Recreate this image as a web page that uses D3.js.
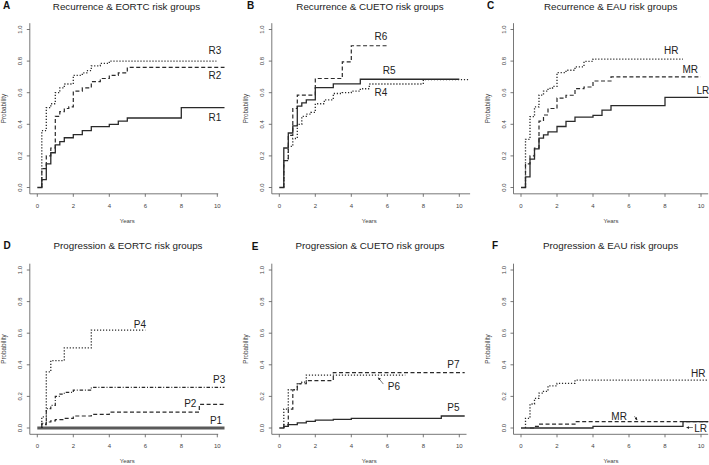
<!DOCTYPE html>
<html><head><meta charset="utf-8">
<script src="https://cdn.jsdelivr.net/npm/d3@7"></script>
<style>body{margin:0;background:#fff}svg{display:block;font-family:"Liberation Sans",Arial,sans-serif}</style>
</head><body><svg id="c" width="709" height="465"></svg>
<script>
// ---- data: step points [years, probability]; last point = end of curve ----
const recEortcR1 = [[0,0],[0.25,0.05],[0.5,0.15],[0.75,0.22],[1,0.27],[1.25,0.29],[1.5,0.315],[2,0.335],[2.5,0.36],[3,0.385],[4,0.40],[4.5,0.42],[5,0.44],[8,0.505],[10.4,0.505]];
const recEortcR2 = [[0.25,0],[0.25,0.12],[0.5,0.2],[0.75,0.25],[1,0.45],[1.25,0.48],[1.5,0.50],[1.75,0.51],[2,0.61],[2.5,0.63],[3,0.67],[3.5,0.69],[4,0.71],[4.5,0.725],[5,0.76],[10.4,0.76]];
const recEortcR3 = [[0.25,0],[0.25,0.36],[0.5,0.505],[0.75,0.53],[1,0.60],[1.25,0.63],[1.5,0.655],[2,0.71],[2.5,0.725],[2.75,0.74],[3,0.77],[3.5,0.785],[4,0.80],[9.95,0.80]];
const recCuetoR4 = [[0.25,0],[0.25,0.17],[0.5,0.26],[0.75,0.31],[1,0.40],[1.25,0.45],[1.5,0.465],[1.75,0.475],[2,0.53],[2.5,0.555],[3,0.595],[3.5,0.60],[4,0.61],[4.5,0.625],[5,0.655],[8,0.683],[10.5,0.683]];
const recCuetoR5 = [[0,0],[0.25,0.25],[0.5,0.345],[0.75,0.39],[1,0.515],[1.25,0.535],[1.5,0.555],[2,0.632],[3,0.656],[4.5,0.685],[10,0.685]];
const recCuetoR6 = [[0.25,0],[0.25,0.17],[0.5,0.33],[0.75,0.50],[1,0.585],[2,0.69],[3.5,0.795],[4,0.897],[6,0.897]];
const recEauLR = [[0,0],[0.25,0.067],[0.5,0.18],[0.75,0.245],[1,0.312],[1.25,0.333],[1.5,0.352],[2,0.386],[2.5,0.418],[3,0.446],[4,0.457],[4.5,0.49],[5,0.518],[8,0.57],[10.4,0.57]];
const recEauMR = [[0.25,0],[0.25,0.15],[0.5,0.2],[0.75,0.25],[1,0.42],[1.25,0.459],[1.5,0.50],[2,0.566],[2.5,0.584],[3,0.626],[3.5,0.636],[4,0.674],[5,0.70],[10,0.70]];
const recEauHR = [[0.25,0],[0.25,0.305],[0.5,0.448],[0.75,0.51],[1,0.585],[1.25,0.61],[1.5,0.627],[1.75,0.64],[2,0.727],[2.5,0.742],[3,0.764],[3.5,0.798],[4,0.812],[9,0.812]];
const proEortcP1 = [[0,0],[10.4,0]];
const proEortcP2 = [[0.25,0],[0.25,0.021],[0.5,0.038],[0.75,0.045],[1,0.053],[1.5,0.061],[2,0.076],[3,0.086],[4,0.10],[9,0.15],[10.4,0.15]];
const proEortcP3 = [[0.25,0],[0.25,0.03],[0.5,0.122],[0.75,0.143],[1,0.20],[1.25,0.215],[1.5,0.225],[2,0.24],[3,0.257],[10.4,0.257]];
const proEortcP4 = [[0.25,0],[0.25,0.07],[0.5,0.355],[0.75,0.427],[1.5,0.507],[3,0.619],[6,0.619]];
const proCuetoP5 = [[0,0],[0.25,0.01],[0.5,0.021],[1,0.032],[1.5,0.042],[2,0.05],[3,0.055],[4,0.061],[9,0.076],[10.3,0.076]];
const proCuetoP6 = [[0.25,0],[0.25,0.12],[0.5,0.242],[1,0.28],[1.25,0.29],[1.5,0.335],[7,0.335]];
const proCuetoP7 = [[0.25,0],[0.25,0.02],[0.5,0.12],[0.75,0.242],[1,0.28],[1.5,0.30],[3,0.35],[10.3,0.35]];
const proEauLR = [[0,0],[4,0.01],[9,0.04],[10.4,0.04]];
const proEauMR = [[0.5,0],[0.75,0.01],[1,0.025],[3,0.04],[10.4,0.04]];
const proEauHR = [[0.25,0],[0.25,0.061],[0.5,0.152],[0.75,0.187],[1,0.221],[1.25,0.232],[1.5,0.267],[2,0.282],[3,0.303],[10.4,0.303]];

const panelLetters = ["A","B","C","D","E","F"];
const panelTitles = ["Recurrence & EORTC risk groups","Recurrence & CUETO risk groups","Recurrence & EAU risk groups",
  "Progression & EORTC risk groups","Progression & CUETO risk groups","Progression & EAU risk groups"];
const xTicks = [0,2,4,6,8,10];
const yTicks = [0,0.2,0.4,0.6,0.8,1.0];
// labels: [text, years, probability]
const labelsA = [["R3",9.87,0.87],["R2",9.87,0.706],["R1",9.87,0.446]];
const labelsB = [["R6",5.65,0.954],["R5",6.1,0.739],["R4",5.65,0.60]];
const labelsC = [["HR",8.35,0.87],["MR",9.4,0.748],["LR",10.1,0.613]];
const labelsD = [["P4",5.7,0.654],["P3",10.1,0.304],["P2",8.5,0.157],["P1",9.93,0.05]];
const labelsE = [["P7",9.67,0.403],["P6",6.37,0.261],["P5",9.67,0.128]];
const labelsF = [["HR",9.85,0.346],["MR",5.45,0.073],["LR",9.98,-0.006]];
// arrows: [fromYears, fromProb, toYears, toProb]
const arrowsE = [[5.78,0.278,5.5,0.318]];
const arrowsF = [[6.3,0.075,6.45,0.05],[9.55,0.003,9.2,0.003]];

// ---- styles ----
const ST = {
  solid:{dash:null,w:1.3,c:"#2a2a2a"},
  dash:{dash:"4,2.5",w:1.2,c:"#2a2a2a"},
  dot:{dash:"1.2,1.8",w:1.3,c:"#2a2a2a"},
  dotdash:{dash:"1,1.8,3.5,1.8",w:1.2,c:"#2a2a2a"},
  thick:{dash:null,w:3,c:"#5a5a5a"}
};
const panels = [
  {x0:37.3,y0:187.5,axEnd:10.05,series:[[recEortcR1,"solid"],[recEortcR2,"dash"],[recEortcR3,"dot"]],labels:labelsA,arrows:[],tx:126.5,ty:9.5,lx:6.5,ly:9},
  {x0:279.3,y0:187.5,axEnd:10.6,series:[[recCuetoR5,"solid"],[recCuetoR6,"dash"],[recCuetoR4,"dot"]],labels:labelsB,arrows:[],tx:370,ty:9.5,lx:250.5,ly:9},
  {x0:521,y0:187.5,axEnd:10.4,series:[[recEauLR,"solid"],[recEauMR,"dash"],[recEauHR,"dot"]],labels:labelsC,arrows:[],tx:610.6,ty:9.5,lx:490.5,ly:9},
  {x0:37.3,y0:428,axEnd:10.05,series:[[proEortcP1,"thick"],[proEortcP2,"dash"],[proEortcP3,"dotdash"],[proEortcP4,"dot"]],labels:labelsD,arrows:[],tx:128,ty:249,lx:7,ly:249},
  {x0:279.3,y0:428,axEnd:10.4,series:[[proCuetoP5,"solid"],[proCuetoP7,"dash"],[proCuetoP6,"dot"]],labels:labelsE,arrows:arrowsE,tx:370,ty:249,lx:255,ly:250},
  {x0:521,y0:428,axEnd:10.4,series:[[proEauLR,"solid"],[proEauMR,"dash"],[proEauHR,"dot"]],labels:labelsF,arrows:arrowsF,tx:610.6,ty:249,lx:495,ly:249}
];

const svg = d3.select("#c");
svg.append("defs").append("marker").attr("id","ah").attr("viewBox","0 0 10 10").attr("refX",9).attr("refY",5)
  .attr("markerWidth",5).attr("markerHeight",5).attr("orient","auto")
  .append("path").attr("d","M0,0L10,5L0,10z").attr("fill","#222");

const PXY = 18, PPU = 158;
panels.forEach((p,i)=>{
  const x = d3.scaleLinear().domain([0,10]).range([p.x0,p.x0+10*PXY]);
  const y = d3.scaleLinear().domain([0,1]).range([p.y0,p.y0-PPU]);
  const g = svg.append("g");
  const axX = x(-0.416), axY = y(-0.04);
  g.append("line").attr("x1",axX).attr("x2",axX).attr("y1",y(1.04)).attr("y2",axY).attr("stroke","#555").attr("stroke-width",0.8);
  g.append("line").attr("x1",axX).attr("x2",x(p.axEnd)).attr("y1",axY).attr("y2",axY).attr("stroke","#555").attr("stroke-width",0.8);
  xTicks.forEach(t=>{
    g.append("line").attr("x1",x(t)).attr("x2",x(t)).attr("y1",axY).attr("y2",axY+3).attr("stroke","#555").attr("stroke-width",0.8);
    g.append("text").attr("x",x(t)).attr("y",axY+14).attr("text-anchor","middle").attr("font-size",6).attr("fill","#444").text(t);
  });
  yTicks.forEach(t=>{
    g.append("line").attr("x1",axX).attr("x2",axX-3).attr("y1",y(t)).attr("y2",y(t)).attr("stroke","#555").attr("stroke-width",0.8);
    g.append("text").attr("transform",`translate(${axX-8},${y(t)}) rotate(-90)`).attr("text-anchor","middle").attr("font-size",6).attr("fill","#444").text(d3.format(".1f")(t));
  });
  g.append("text").attr("x",x(5)).attr("y",axY+29).attr("text-anchor","middle").attr("font-size",6).attr("fill","#444").text("Years");
  g.append("text").attr("transform",`translate(${axX-24},${y(0.5)}) rotate(-90)`).attr("text-anchor","middle").attr("font-size",6.3).attr("fill","#444").text("Probability");
  g.append("text").attr("x",p.tx).attr("y",p.ty).attr("text-anchor","middle").attr("font-size",9.8).attr("fill","#222").text(panelTitles[i]);
  g.append("text").attr("x",p.lx).attr("y",p.ly).attr("text-anchor","middle").attr("font-size",10).attr("font-weight","bold").attr("fill","#111").text(panelLetters[i]);
  const line = d3.line().x(d=>x(d[0])).y(d=>y(d[1])).curve(d3.curveStepAfter);
  p.series.forEach(([data,s])=>{
    const st = ST[s];
    g.append("path").attr("d",line(data)).attr("fill","none").attr("stroke",st.c).attr("stroke-width",st.w)
      .attr("stroke-dasharray",st.dash);
  });
  p.labels.forEach(([txt,t,v])=>{
    g.append("text").attr("x",x(t)).attr("y",y(v)).attr("dy","0.35em").attr("text-anchor","middle").attr("font-size",10).attr("fill","#222").text(txt);
  });
  p.arrows.forEach(([t1,v1,t2,v2])=>{
    g.append("line").attr("x1",x(t1)).attr("y1",y(v1)).attr("x2",x(t2)).attr("y2",y(v2)).attr("stroke","#222").attr("stroke-width",0.6).attr("marker-end","url(#ah)");
  });
});
</script></body></html>
